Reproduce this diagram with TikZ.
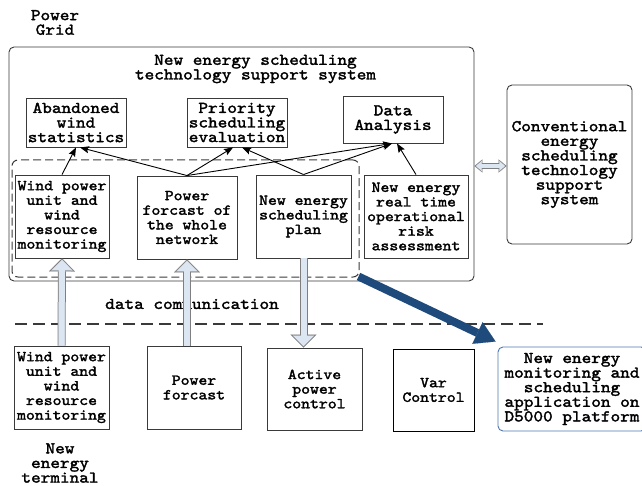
\documentclass[tikz,border=0pt]{standalone}
\usepackage{fontspec}
\newfontfamily\diagfont[FakeStretch=1.12, FakeBold=2]{lmmono10-regular.otf}
\usepackage{tikz}
\usetikzlibrary{arrows.meta, positioning}

\definecolor{boxgray}{HTML}{3A3A3A}
\definecolor{arrowfill}{HTML}{DCE6F2}
\definecolor{arrowline}{HTML}{7F7F7F}
\definecolor{darkarrow}{HTML}{1F4A7C}
\definecolor{platblue}{HTML}{4F76B0}

\begin{document}
\begin{tikzpicture}[x=1pt, y=-1pt,
    bigfont/.style={font=\diagfont\fontsize{16.4}{14.6}\selectfont},
    smallfont/.style={font=\diagfont\fontsize{15.1}{14.6}\selectfont},
    unit/.style={draw=boxgray, line width=0.9pt, rectangle, align=center, inner sep=0pt},
    plaintext/.style={align=center, inner sep=0pt},
    thinarrow/.style={draw=black, line width=0.9pt, -{Stealth[length=9pt, width=7pt, inset=1.5pt]}},
    hollowarrow/.style={
        preaction={draw=arrowline, line width=8pt, shorten >=0pt, -{Triangle[length=13pt, width=26pt, line width=0.1pt]}},
        draw=arrowfill, line width=6pt, shorten >=1.4pt, -{Triangle[length=10.6pt, width=21.2pt, line width=0.1pt]},
        postaction={draw=arrowfill, line width=6pt, shorten >=11pt, -}},
    hollowboth/.style={
        preaction={draw=arrowline, line width=6pt, shorten >=0pt, shorten <=0pt, {Triangle[length=8pt, width=13pt, line width=0.1pt]}-{Triangle[length=8pt, width=13pt, line width=0.1pt]}},
        draw=arrowfill, line width=4pt, shorten >=1.5pt, shorten <=1.5pt, {Triangle[length=5.8pt, width=10pt, line width=0.1pt]}-{Triangle[length=5.8pt, width=10pt, line width=0.1pt]},
        postaction={draw=arrowfill, line width=4pt, shorten >=6.5pt, shorten <=6.5pt, -}}
]

    % Size of the page
    \useasboundingbox (0,0) rectangle (642,486);

    % Labels outside the boxes
    \node (grid) [plaintext, bigfont] at (55,22.5) {Power\\Grid};
    \node (terminal) [plaintext, bigfont] at (60,463) {New\\energy\\terminal};

    % Support systems
    \node (nes) [unit, rounded corners=5pt, minimum width=465pt, minimum height=234pt] at (241.5,164) {};
    \node (nestitle) [plaintext, bigfont] at (255.5,69) {New energy scheduling\\technology support system};
    \node (conv) [unit, bigfont, rounded corners=5pt, minimum width=125pt, minimum height=159pt] at (569.5,164.5) {Conventional\\energy\\scheduling\\technology\\support\\system};
    \node (group) [draw=boxgray, line width=1pt, dash pattern=on 8pt off 4pt, rounded corners=6pt, minimum width=347pt, minimum height=117pt] at (185.5,218.5) {};

    % Upper row of functions
    \node (abandoned) [unit, bigfont, minimum width=100pt, minimum height=49pt] at (76,122.5) {Abandoned\\wind\\statistics};
    \node (priority) [unit, bigfont, minimum width=100pt, minimum height=49pt] at (237,122.5) {Priority\\scheduling\\evaluation};
    \node (analysis) [unit, bigfont, minimum width=100pt, minimum height=47pt] at (393,119.5) {Data\\Analysis};

    % Middle row of functions
    \node (windtop) [unit, smallfont, minimum width=94pt, minimum height=83pt] at (62,216.5) {Wind power\\unit and\\wind\\resource\\monitoring};
    \node (forcasttop) [unit, smallfont, minimum width=100pt, minimum height=83pt] at (187,217.5) {Power\\forcast of\\the whole\\network};
    \node (plan) [unit, smallfont, minimum width=95pt, minimum height=83pt] at (303.5,216.5) {New energy\\scheduling\\plan};
    \node (risk) [unit, smallfont, minimum width=104pt, minimum height=83pt] at (416,216.5) {New energy\\real time\\operational\\risk\\assessment};

    % Communication layer
    \node (comm) [plaintext, bigfont] at (192,304) {data communication};
    \coordinate (lineleft) at (15,324);
    \coordinate (lineright) at (543,324);
    \draw[draw=boxgray, line width=1.2pt, dash pattern=on 12pt off 6pt] (lineleft) -- (lineright);

    % Terminal row
    \node (windlow) [unit, smallfont, minimum width=95pt, minimum height=83pt] at (61.5,387.5) {Wind power\\unit and\\wind\\resource\\monitoring};
    \node (forcastlow) [unit, smallfont, minimum width=94pt, minimum height=83pt] at (194,387.5) {Power\\forcast};
    \node (active) [unit, smallfont, minimum width=95pt, minimum height=82pt] at (314.5,389) {Active\\power\\control};
    \node (var) [unit, smallfont, draw=black, minimum width=81pt, minimum height=82pt] at (433.5,390) {Var\\Control};
    \node (dfive) [unit, bigfont, draw=platblue, rounded corners=5pt, minimum width=148pt, minimum height=84pt] at (572,389) {New energy\\monitoring and\\scheduling\\application on\\D5000 platform};

    % Arrows between functions
    \draw[thinarrow] (windtop.north) -- (abandoned.south);
    \draw[thinarrow] (forcasttop.north) -- ([xshift=4pt]abandoned.south);
    \draw[thinarrow] (forcasttop.north) -- ([xshift=-4pt]priority.south);
    \draw[thinarrow] (forcasttop.north) -- ([xshift=-1pt]analysis.south);
    \draw[thinarrow] (plan.north) -- ([xshift=5pt]priority.south);
    \draw[thinarrow] (plan.north) -- ([xshift=-1pt]analysis.south);
    \draw[thinarrow] (risk.north) -- ([xshift=4pt]analysis.south);

    % Data exchange arrows
    \draw[hollowarrow] (windlow.north) -- (windtop.south);
    \draw[hollowarrow] (forcasttop.south |- forcastlow.north) -- (forcasttop.south);
    \draw[hollowarrow] (plan.south) -- (plan.south |- active.north);
    \draw[hollowboth] ([yshift=-2pt]nes.east) -- ([yshift=-2pt]nes.east -| conv.west);
    \draw[line width=8pt, darkarrow, -{Triangle[length=20pt, width=24pt, line width=0.1pt]}] ([shift={(-1pt,1pt)}]group.south east) -- ([shift={(-2pt,5pt)}]dfive.north west);

\end{tikzpicture}
\end{document}
